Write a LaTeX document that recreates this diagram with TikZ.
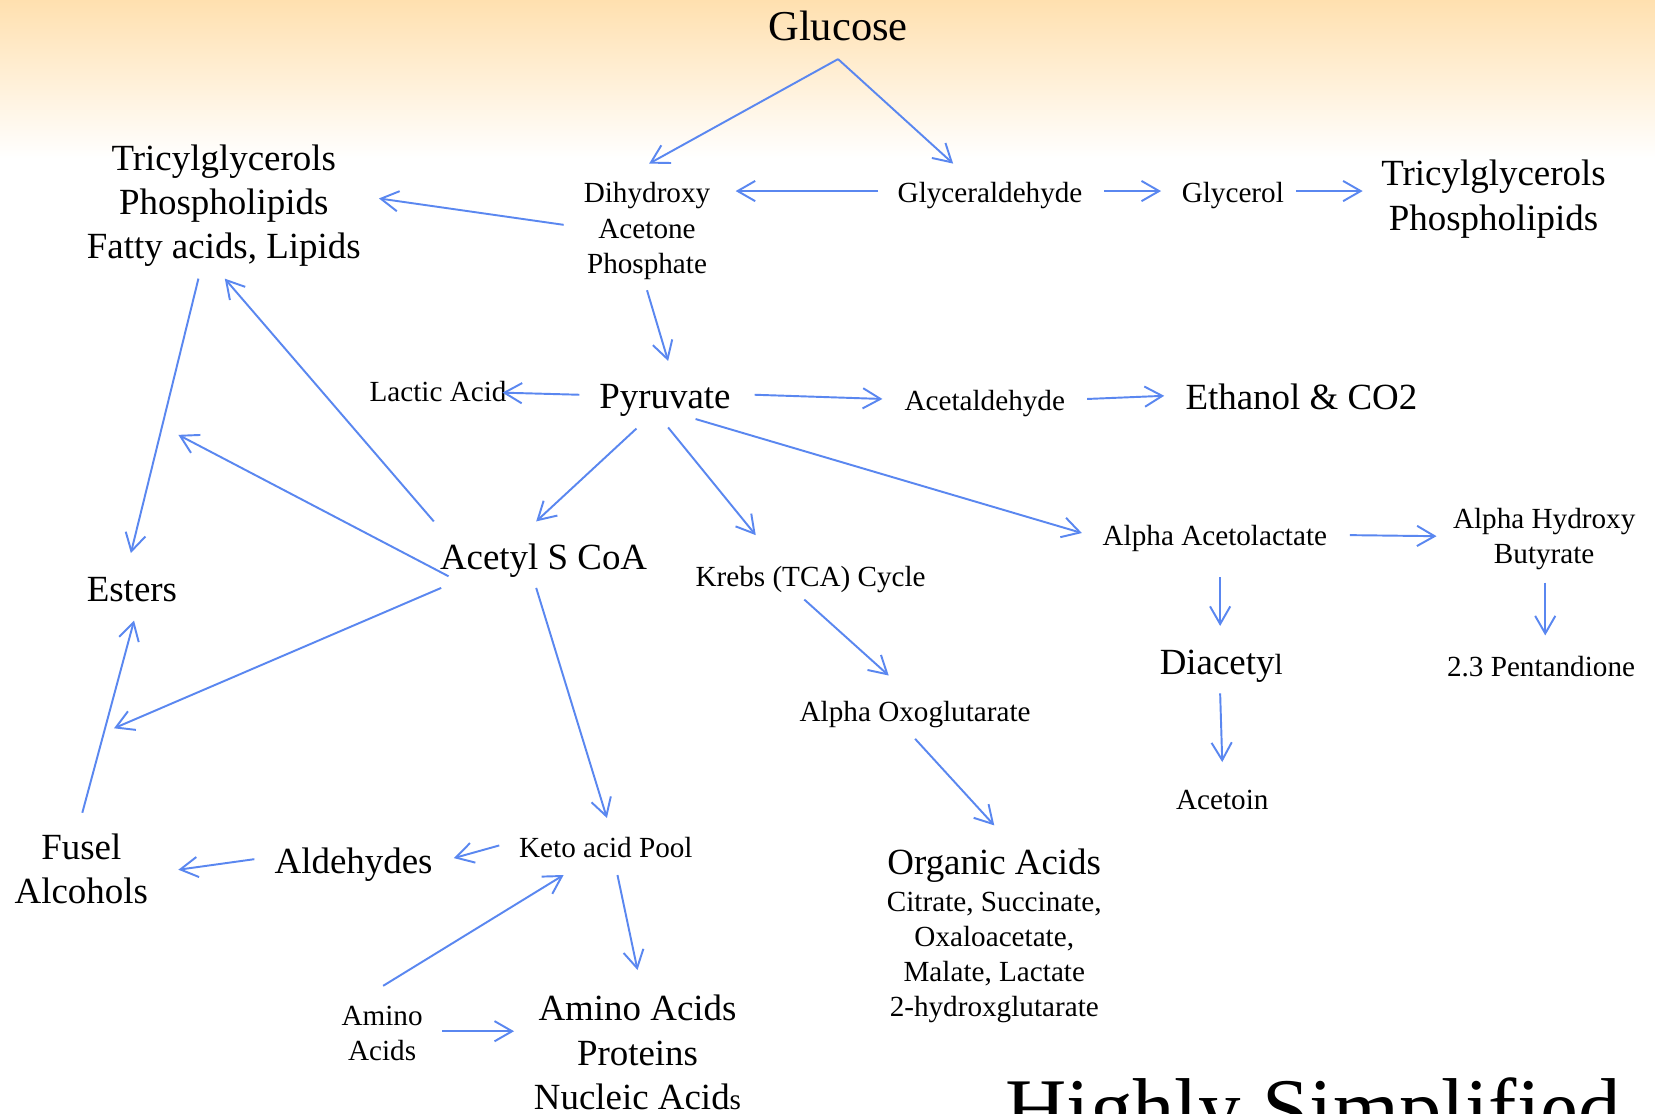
\documentclass[tikz,border=0pt]{standalone}
\usepackage{fontspec}
\setmainfont{Liberation Serif}
\usetikzlibrary{positioning, calc, arrows.meta}

\definecolor{flowblue}{RGB}{90,135,240}
\definecolor{peach}{RGB}{255,224,175}

\begin{document}
\begin{tikzpicture}[
    x=0.02111cm, y=-0.02111cm,
    big/.style={font=\fontsize{21}{25.2}\selectfont, align=center, inner sep=0pt, text depth=0pt},
    med/.style={font=\fontsize{16.6}{20}\selectfont, align=center, inner sep=0pt, text depth=0pt},
    flow/.style={draw=flowblue, line width=1.1pt, -{Straight Barb[length=10pt, width=11.5pt]}}
]

    % Page and background band
    \useasboundingbox (0,0) rectangle (1568,1055);
    \clip (0,0) rectangle (1568,1055);
    \fill[white] (0,0) rectangle (1568,1055);
    \shade[top color=peach, bottom color=white] (0,0) rectangle (1568,150);

    % Top of the pathway
    \node[big, font=\fontsize{24.2}{29}\selectfont] (glucose) at (794,24) {Glucose};
    \node[med] (dhap) at (613,216) {Dihydroxy\\Acetone\\Phosphate};
    \node[med] (glyald) at (938,182) {Glyceraldehyde};
    \node[med] (glycerol) at (1168,182) {Glycerol};
    \node[big] (tgr) at (1415,185) {Tricylglycerols\\Phospholipids};
    \node[big] (tgl) at (212,191) {Tricylglycerols\\Phospholipids\\Fatty acids, Lipids};

    % Pyruvate row
    \node[med] (lactic) at (415,371) {Lactic Acid};
    \node[big] (pyruvate) at (630,376) {Pyruvate};
    \node[med] (acetald) at (933,379) {Acetaldehyde};
    \node[big] (ethanol) at (1233,376) {Ethanol \& CO2};

    % Middle
    \node[big] (acetyl) at (515,527) {Acetyl S CoA};
    \node[med] (krebs) at (768,546) {Krebs (TCA) Cycle};
    \node[med] (aog) at (867,674) {Alpha Oxoglutarate};
    \node[med] (aal) at (1151,507) {Alpha Acetolactate};
    \node[med] (ahb) at (1463,508) {Alpha Hydroxy\\Butyrate};
    \node[big] (diacetyl) at (1157,627) {Diacety{\fontsize{16.6}{20}\selectfont l}};
    \node[med] (pent) at (1460,631) {2.3 Pentandione};
    \node[med] (acetoin) at (1158,758) {Acetoin};
    \node[big] (esters) at (125,558) {Esters};

    % Bottom
    \node[big] (fusel) at (77,823) {Fusel\\Alcohols};
    \node[big] (aldehydes) at (335,815) {Aldehydes};
    \node[med] (keto) at (574,803) {Keto acid Pool};
    \node[med] (aa) at (362,979) {Amino\\Acids};
    \node[big] (aap) at (604,997) {Amino Acids\\Proteins\\Nucleic Acid{\fontsize{16.6}{20}\selectfont s}};
    \node[big] (orgacids) at (942,816) {Organic Acids};
    \node[med] (orglist) at (942,904) {Citrate, Succinate,\\Oxaloacetate,\\Malate, Lactate\\2-hydroxglutarate};
    \node[anchor=base west, inner sep=0pt, font=\fontsize{48.3}{58}\selectfont] (title) at (952,1078) {Highly Simplified};

    % Free ends
    \coordinate (toTE) at (169,412);
    \coordinate (toFE) at (108,690);

    % Glucose split
    \draw[flow] ($(glucose)+(0,32)$) -- ($(dhap)+(2,-61)$);
    \draw[flow] ($(glucose)+(0,32)$) -- ($(glyald)+(-35,-27)$);
    \draw[flow] ($(glyald)+(-106,-1)$) -- ($(dhap)+(84,-35)$);
    \draw[flow] ($(glyald)+(108,-1)$) -- ($(glycerol)+(-68,-1)$);
    \draw[flow] ($(glycerol)+(60,-1)$) -- ($(tgr)+(-124,-4)$);
    \draw[flow] ($(dhap)+(-79,-3)$) -- ($(tgl)+(147,-3)$);
    \draw[flow] ($(dhap)+(0,59)$) -- ($(pyruvate)+(3,-34)$);

    % From pyruvate
    \draw[flow] ($(pyruvate)+(-81,-2)$) -- ($(lactic)+(61,1)$);
    \draw[flow] ($(pyruvate)+(85,-2)$) -- ($(acetald)+(-97,-1)$);
    \draw[flow] ($(acetald)+(97,-1)$) -- ($(ethanol)+(-130,-1)$);
    \draw[flow] ($(pyruvate)+(-27,30)$) -- ($(acetyl)+(-7,-33)$);
    \draw[flow] ($(pyruvate)+(3,29)$) -- ($(krebs)+(-52,-39)$);
    \draw[flow] ($(pyruvate)+(29,21)$) -- ($(aal)+(-126,-2)$);

    % Acetolactate branch
    \draw[flow] ($(aal)+(128,0)$) -- ($(ahb)+(-102,0)$);
    \draw[flow] ($(aal)+(5,40)$) -- ($(diacetyl)+(-1,-34)$);
    \draw[flow] ($(ahb)+(1,44)$) -- ($(pent)+(4,-29)$);
    \draw[flow] ($(diacetyl)+(-1,30)$) -- ($(acetoin)+(0,-36)$);

    % Krebs cycle
    \draw[flow] ($(krebs)+(-6,22)$) -- ($(aog)+(-25,-34)$);
    \draw[flow] ($(aog)+(0,26)$) -- ($(orgacids)+(0,-34)$);

    % From acetyl S CoA
    \draw[flow] ($(acetyl)+(-104,-33)$) -- ($(tgl)+(1,73)$);
    \draw[flow] ($(acetyl)+(-90,19)$) -- (toTE);
    \draw[flow] ($(acetyl)+(-97,30)$) -- (toFE);
    \draw[flow] ($(acetyl)+(-7,30)$) -- ($(keto)+(1,-28)$);

    % Esters
    \draw[flow] ($(tgl)+(-24,73)$) -- ($(esters)+(-1,-34)$);
    \draw[flow] ($(fusel)+(1,-53)$) -- ($(esters)+(2,30)$);

    % Keto acid pool
    \draw[flow] ($(keto)+(-101,-2)$) -- ($(aldehydes)+(95,-2)$);
    \draw[flow] ($(aldehydes)+(-94,-1)$) -- ($(fusel)+(92,1)$);
    \draw[flow] ($(aa)+(1,-45)$) -- ($(keto)+(-40,26)$);
    \draw[flow] ($(aa)+(57,-2)$) -- ($(aap)+(-117,-20)$);
    \draw[flow] ($(keto)+(11,26)$) -- ($(aap)+(0,-78)$);

\end{tikzpicture}
\end{document}
